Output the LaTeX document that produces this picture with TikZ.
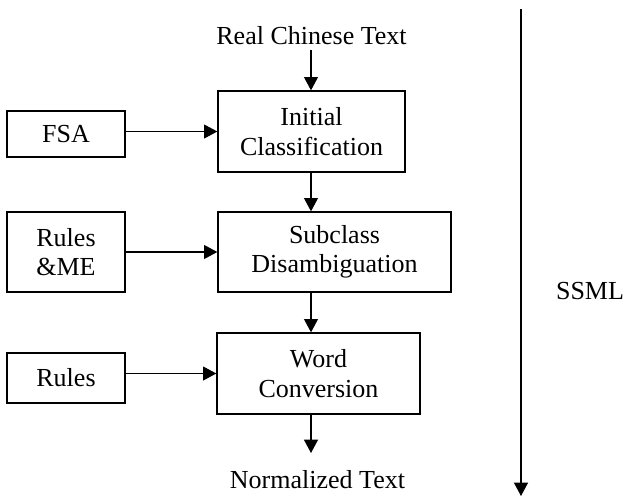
\documentclass[tikz,border=0pt]{standalone}
\usepackage{fontspec}
\setmainfont{Liberation Serif}
\usetikzlibrary{arrows.meta}

\begin{document}
\begin{tikzpicture}[x=0.75pt,y=-0.75pt,>={Triangle[width=10.5pt,length=10pt]},
  txt/.style={font=\fontsize{19.5}{22}\selectfont, inner sep=0pt},
  box/.style={txt, draw, line width=1pt, align=center},
  flow/.style={->, line width=0.8pt}]
        \useasboundingbox (0,0) rectangle (625,497);
        % Main stages
        \node[box, minimum width=140.25pt, minimum height=60.75pt] (init) at (311.5,131.5) {Initial\\Classification};
        \node[box, minimum width=174.75pt, minimum height=60pt] (subc) at (334.5,252) {Subclass\\Disambiguation};
        \node[box, minimum width=152.25pt, minimum height=60.75pt] (word) at (318.5,373.5) {Word\\Conversion};
        % Knowledge sources
        \node[box, minimum width=88.5pt, minimum height=34.5pt] (fsa) at (66,134) {FSA};
        \node[box, minimum width=88.5pt, minimum height=60pt] (rme) at (66,252) {Rules\\\&ME};
        \node[box, minimum width=88.5pt, minimum height=37.5pt] (rules) at (66,378) {Rules};
        % Input and output
        \node[txt, anchor=base] (real) at (311.5,44) {Real Chinese Text};
        \node[txt, anchor=base] (norm) at (317.5,488) {Normalized Text};
        \coordinate (rstart) at (311,50);
        \coordinate (nend) at (311,453);
        \draw[flow] (rstart) -- (init.north -| rstart);
        \draw[flow] (init.south -| rstart) -- (subc.north -| rstart);
        \draw[flow] (subc.south -| rstart) -- (word.north -| rstart);
        \draw[flow] (word.south -| nend) -- (nend);
        % Side inputs
        \draw[flow] (fsa.east |- init.west) -- (init.west);
        \draw[flow] (rme.east) -- (subc.west);
        \draw[flow] (rules.east |- word.west) -- (word.west);
        % SSML
        \coordinate (stop) at (521,9);
        \coordinate (sbot) at (521,496);
        \draw[flow] (stop) -- (sbot);
        \node[txt, anchor=base] (ssml) at (590,299) {SSML};
\end{tikzpicture}
\end{document}
